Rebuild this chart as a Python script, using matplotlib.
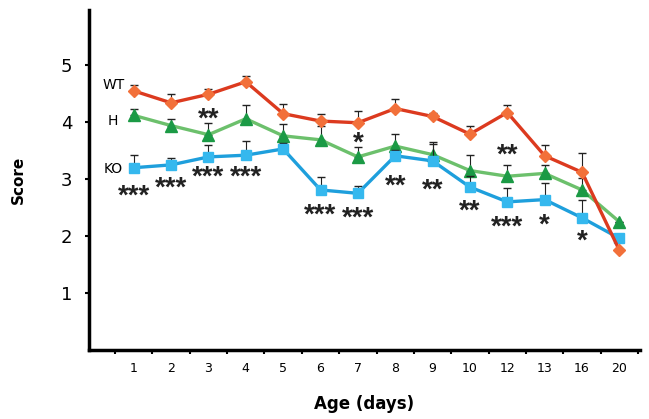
import matplotlib.pyplot as plt
import numpy as np

# datos
dias = ['1', '2', '3', '4', '5', '6', '7', '8', '9', '10', '12', '13', '16', '20']
wt = [4.55, 4.34, 4.49, 4.71, 4.15, 4.02, 3.99, 4.24, 4.10, 3.79, 4.17, 3.41, 3.12, 1.75]
wt_err = [0.10, 0.16, 0.09, 0.10, 0.17, 0.12, 0.20, 0.17, 0.06, 0.15, 0.13, 0.19, 0.33, 0.0]
h = [4.12, 3.94, 3.78, 4.06, 3.76, 3.69, 3.39, 3.58, 3.43, 3.15, 3.05, 3.10, 2.81, 2.25]
h_err = [0.12, 0.12, 0.20, 0.24, 0.20, 0.25, 0.17, 0.21, 0.23, 0.27, 0.20, 0.15, 0.21, 0.0]
ko = [3.20, 3.25, 3.39, 3.42, 3.53, 2.81, 2.75, 3.41, 3.32, 2.86, 2.60, 2.64, 2.32, 1.96]
ko_err = [0.22, 0.12, 0.21, 0.25, 0.10, 0.22, 0.13, 0.10, 0.30, 0.20, 0.24, 0.29, 0.31, 0.0]

# marcas de significancia: (indice, valor, texto)
sig_idx = [0, 1, 2, 3, 2, 5, 6, 6, 7, 8, 9, 10, 10, 11, 12]
sig_y = [2.78, 2.92, 3.11, 3.11, 4.14, 2.45, 2.39, 3.72, 2.95, 2.89, 2.51, 2.24, 3.50, 2.28, 1.99]
sig_txt = ['***', '***', '***', '***', '**', '***', '***', '*', '**', '**', '**', '***', '**', '*', '*']

x = np.arange(len(dias))

fig = plt.figure(figsize=(6.49, 4.19), dpi=100)
ax = fig.add_axes([0.137, 0.165, 0.849, 0.811])

ax.errorbar(x, h, yerr=[np.zeros(len(h)), h_err], color='#6cc06c', lw=2.4,
            marker='^', ms=9, mfc='#1b9a45', mec='#1b9a45', ecolor='#222222',
            elinewidth=0.8, capsize=3, zorder=2)
ax.errorbar(x, ko, yerr=[np.zeros(len(ko)), ko_err], color='#1e9fdc', lw=2.4,
            marker='s', ms=7, mfc='#35b8ee', mec='#35b8ee', ecolor='#222222',
            elinewidth=0.8, capsize=3, zorder=3)
ax.errorbar(x, wt, yerr=[np.zeros(len(wt)), wt_err], color='#dc3a1f', lw=2.4,
            marker='D', ms=6, mfc='#f2703a', mec='#f2703a', ecolor='#222222',
            elinewidth=0.8, capsize=3, zorder=4)

for i, yv, t in zip(sig_idx, sig_y, sig_txt):
    ax.text(x[i], yv - 0.09, t, ha='center', va='center', fontsize=20,
            fontweight='bold', color='#222222', family='Liberation Sans')

ax.text(-0.55, 4.65, 'WT', ha='center', va='center', fontsize=10)
ax.text(-0.55, 4.02, 'H', ha='center', va='center', fontsize=10)
ax.text(-0.55, 3.17, 'KO', ha='center', va='center', fontsize=10)

ax.set_xlim(-1.2, 13.55)
ax.set_ylim(0, 5.97)
ax.set_yticks([1, 2, 3, 4, 5])
ax.set_yticklabels(['1', '2', '3', '4', '5'], fontsize=13)
ax.set_xticks(x)
ax.set_xticklabels(dias, fontsize=9)
ax.set_xticks(np.arange(-0.5, 14, 1), minor=True)
ax.tick_params(axis='x', which='major', length=0, pad=9)
ax.tick_params(axis='x', which='minor', length=3, width=1.5)
ax.tick_params(axis='y', length=3, width=1.5, pad=9)

for s in ['top', 'right']:
    ax.spines[s].set_visible(False)
ax.spines['left'].set_linewidth(2.5)
ax.spines['bottom'].set_linewidth(2.5)

ax.set_xlabel('Age (days)', fontsize=12, fontweight='bold', labelpad=14)
ax.set_ylabel('Score', fontsize=11, fontweight='bold', labelpad=25)

plt.savefig('out.png', dpi=100)
